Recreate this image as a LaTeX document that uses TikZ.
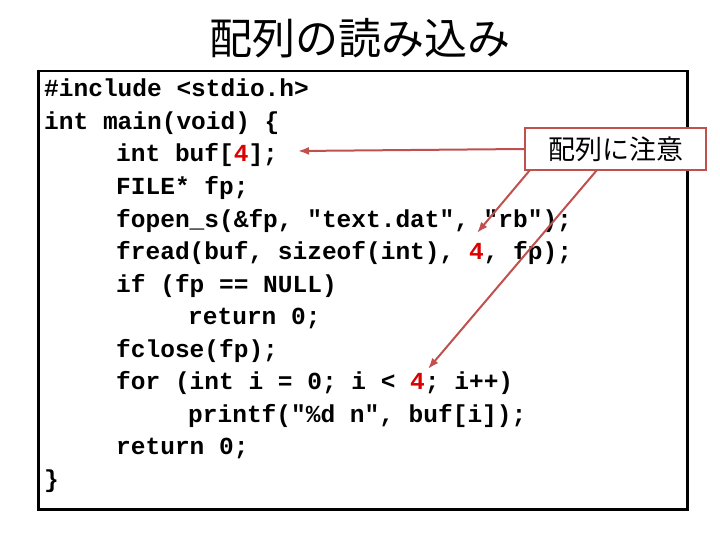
\documentclass[tikz,border=0pt]{standalone}
\usepackage{fontspec}
\usetikzlibrary{arrows.meta}
\setmonofont{Liberation Mono}
\newfontfamily\cjk{Noto Sans CJK JP}
\definecolor{arr}{RGB}{192,80,77}
\definecolor{num}{RGB}{220,0,0}
\begin{document}
\begin{tikzpicture}[x=1pt,y=-1pt,
  code/.style={anchor=base west,inner sep=0pt,font=\fontsize{24.5}{24.5}\selectfont\ttfamily\bfseries},
  callarrow/.style={draw=arr,line width=2pt,-{Latex[length=11pt,width=8pt]}}]
\useasboundingbox (0,0) rectangle (720,540);
\node[font=\fontsize{43}{43}\selectfont\cjk] (title) at (360,38) {配列の読み込み};
\node[draw,line width=2.5pt,minimum width=649pt,minimum height=438pt,anchor=north west,inner sep=0pt] (box) at (37,70) {};
\newcommand\cl[3]{\node[code] (#1) at (#2) {#3};}
\cl{l1}{44,97}{\#include <stdio.h>}
\cl{l2}{44,129.5}{int main(void) \{}
\cl{l3}{116,162}{int buf[\textcolor{num}{4}];}
\cl{l4}{116,194.5}{FILE* fp;}
\cl{l5}{116,227}{fopen\_s(\&fp, "text.dat", "rb");}
\cl{l6}{116,259.5}{fread(buf, sizeof(int), \textcolor{num}{4}, fp);}
\cl{l7}{116,292}{if (fp == NULL)}
\cl{l8}{188,324.5}{return 0;}
\cl{l9}{116,357}{fclose(fp);}
\cl{l10}{116,389.5}{for (int i = 0; i < \textcolor{num}{4}; i++)}
\cl{l11}{188,422}{printf("\%d n", buf[i]);}
\cl{l12}{116,454.5}{return 0;}
\cl{l13}{44,487}{\}}
\node[draw=arr,line width=2pt,fill=white,minimum width=181pt,minimum height=42pt,font=\fontsize{27}{27}\selectfont\cjk] (call) at (615.5,149) {配列に注意};
\coordinate (t1) at (298,151);
\coordinate (t2) at (477,233);
\coordinate (t3) at (428,369);
\draw[callarrow] (call.west) -- (t1);
\draw[callarrow] (530,170) -- (t2);
\draw[callarrow] (597,170) -- (t3);
\end{tikzpicture}
\end{document}
